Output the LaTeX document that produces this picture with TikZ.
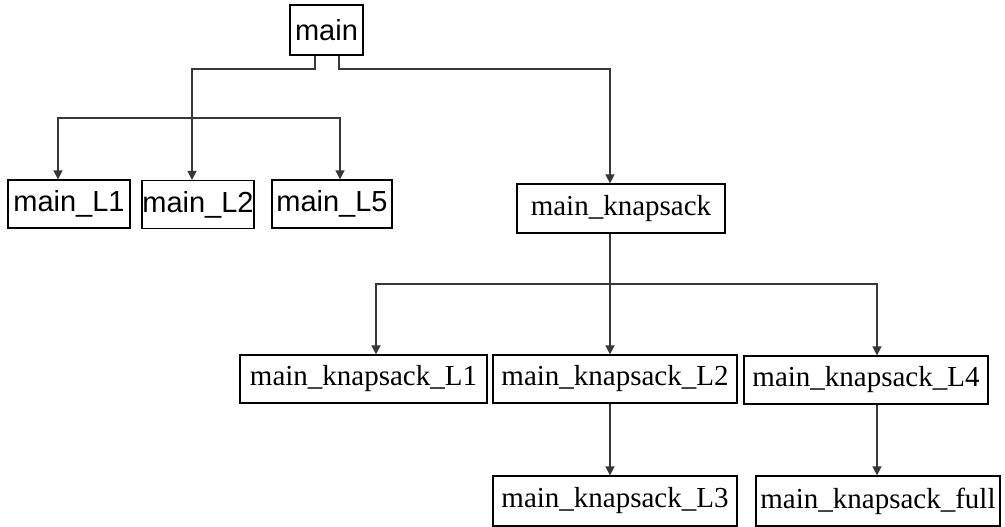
\documentclass[tikz,border=0pt]{standalone}
\usepackage{fontspec}
\setmainfont{Liberation Serif}
\newfontfamily\arialfont{Liberation Sans}
\usetikzlibrary{arrows.meta}
\begin{document}
\begin{tikzpicture}[x=1pt,y=-1pt,
  box/.style={draw=black,line width=1.2pt,inner sep=0pt,minimum height=48pt,fill=white},
  sansbox/.style={box,font=\arialfont\fontsize{29}{34}\selectfont},
  serifbox/.style={box,font=\fontsize{29}{34}\selectfont},
  wire/.style={draw=black!78,line width=1.4pt},
  arr/.style={wire,-{Triangle[length=9pt,width=9pt]}}]
\useasboundingbox (0,0) rectangle (1005,527);

% top level
\node[sansbox,minimum width=73pt,minimum height=50pt] (main) at (326.5,30) {main};

% direct children of main
\node[sansbox,minimum width=122pt] (L1) at (69,204) {main\_L1};
\node[sansbox,minimum width=112pt] (L2) at (198,204.5) {main\_L2};
\node[sansbox,minimum width=120pt] (L5) at (332,204) {main\_L5};
\node[serifbox,minimum width=208pt,minimum height=49pt] (mk) at (621,208.5) {main\_knapsack};

% children of main_knapsack
\node[serifbox,minimum width=247pt] (k1) at (363.5,379) {main\_knapsack\_L1};
\node[serifbox,minimum width=244pt] (k2) at (615,379) {main\_knapsack\_L2};
\node[serifbox,minimum width=244pt] (k4) at (866,380) {main\_knapsack\_L4};
\node[serifbox,minimum width=244pt,minimum height=50pt] (k3) at (615,501) {main\_knapsack\_L3};
\node[serifbox,minimum width=244pt,minimum height=50pt] (kf) at (878,501) {main\_knapsack\_full};

% bend points of the connectors
\coordinate (jl) at (192,69);
\coordinate (bl) at (192,118);
\coordinate (b1) at (58,118);
\coordinate (b5) at (340,118);
\coordinate (jr) at (610,69);
\coordinate (kb) at (610,284);
\coordinate (kb1) at (376,284);
\coordinate (kb4) at (877,284);

% main -> main_L1, main_L2, main_L5
\draw[wire] ([xshift=-11.5pt]main.south) |- (jl) -- (bl);
\draw[arr] (bl) -- (b1) -- (b1 |- L1.north);
\draw[arr] (bl) -- (bl |- L2.north);
\draw[arr] (bl) -- (b5) -- (b5 |- L5.north);

% main -> main_knapsack
\draw[arr] ([xshift=12.5pt]main.south) |- (jr) -- (jr |- mk.north);

% main_knapsack -> L1, L2, L4
\draw[wire] (kb |- mk.south) -- (kb);
\draw[arr] (kb) -- (kb1) -- (kb1 |- k1.north);
\draw[arr] (kb) -- (kb |- k2.north);
\draw[arr] (kb) -- (kb4) -- (kb4 |- k4.north);

% L2 -> L3, L4 -> full
\draw[arr] (kb |- k2.south) -- (kb |- k3.north);
\draw[arr] (kb4 |- k4.south) -- (kb4 |- kf.north);
\end{tikzpicture}
\end{document}
